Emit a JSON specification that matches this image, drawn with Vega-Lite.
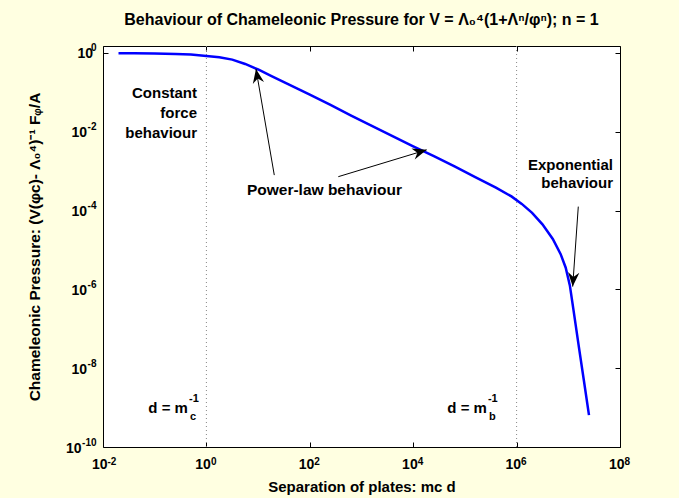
{
  "$schema": "https://vega.github.io/schema/vega-lite/v6.json",
  "width": 517,
  "height": 401,
  "autosize": "none",
  "padding": {"left": 103, "top": 46, "right": 59, "bottom": 51},
  "background": "#FFFFE1",
  "config": {
    "view": {"fill": "white", "stroke": "black", "strokeWidth": 1},
    "font": "Liberation Sans",
    "axis": {
      "labelFont": "Liberation Sans", "labelFontWeight": "bold", "labelFontSize": 14, "labelColor": "black",
      "titleFont": "Liberation Sans", "titleFontWeight": "bold", "titleFontSize": 15, "titleColor": "black",
      "tickColor": "black", "tickSize": -5, "domain": false, "grid": false, "labelPadding": 8, "labelFlush": false, "labelOverlap": false
    }
  },
  "title": {"text": "Behaviour of Chameleonic Pressure for V = Λ₀⁴(1+Λⁿ/φⁿ); n = 1", "font": "Liberation Sans", "fontSize": 16, "fontWeight": "bold", "color": "black", "offset": 15, "anchor": "middle"},
  "datasets": {
    "curve": [
      {"x": 0.01995, "y": 0.9886}, {"x": 0.03981, "y": 0.9840}, {"x": 0.1, "y": 0.9727},
      {"x": 0.2512, "y": 0.9441}, {"x": 0.5012, "y": 0.9078}, {"x": 1, "y": 0.8414},
      {"x": 1.778, "y": 0.7762}, {"x": 3.162, "y": 0.6761}, {"x": 5.623, "y": 0.5248},
      {"x": 10, "y": 0.3802}, {"x": 17.78, "y": 0.2630}, {"x": 31.62, "y": 0.1820},
      {"x": 56.23, "y": 0.1259}, {"x": 100, "y": 0.0871}, {"x": 251.2, "y": 0.04786},
      {"x": 631.0, "y": 0.0257}, {"x": 1585, "y": 0.01413}, {"x": 3981, "y": 0.007762},
      {"x": 10000, "y": 0.004266}, {"x": 25119, "y": 0.002399}, {"x": 63096, "y": 0.001318},
      {"x": 158489, "y": 7.079e-4}, {"x": 398107, "y": 3.802e-4}, {"x": 794328, "y": 2.291e-4},
      {"x": 1258925, "y": 1.479e-4}, {"x": 1995262, "y": 8.71e-5}, {"x": 3162278, "y": 4.467e-5},
      {"x": 5011872, "y": 1.905e-5}, {"x": 7079458, "y": 7.943e-6}, {"x": 8912509, "y": 3.548e-6},
      {"x": 10715193, "y": 1.259e-6}, {"x": 12589254, "y": 3.02e-7}, {"x": 15848932, "y": 3.802e-8},
      {"x": 19952623, "y": 5.012e-9}, {"x": 25118864, "y": 6.457e-10}
    ],
    "vlines": [{"x": 1}, {"x": 1000000}],
    "arrows": [
      {"id": "a1", "x": 20.56, "y": 7.94e-4, "x2": 9.10, "y2": 0.393},
      {"id": "a2", "x": 355.6, "y": 7.24e-4, "x2": 18239, "y2": 0.00347},
      {"id": "a3", "x": 15600000, "y": 1.259e-4, "x2": 12160000, "y2": 1.175e-6}
    ],
    "textRight": [
      {"label": "Constant", "x": 0.658, "y": 0.0966},
      {"label": "force", "x": 0.658, "y": 0.030},
      {"label": "behaviour", "x": 0.658, "y": 0.0093},
      {"label": "Exponential", "x": 73300000, "y": 0.00144},
      {"label": "behaviour", "x": 73300000, "y": 0.0005},
      {"label": "d = m", "x": 0.44, "y": 9.8e-10},
      {"label": "d = m", "x": 267000, "y": 9.8e-10}
    ],
    "textCenter": [
      {"label": "Power-law behaviour", "x": 192, "y": 3.33e-4}
    ],
    "subs": [
      {"label": "c", "x": 0.44, "y": 9.8e-10},
      {"label": "b", "x": 267000, "y": 9.8e-10}
    ],
    "sups": [
      {"label": "-1", "x": 0.44, "y": 9.8e-10},
      {"label": "-1", "x": 267000, "y": 9.8e-10}
    ]
  },
  "layer": [
    {
      "data": {"name": "vlines"},
      "mark": {"type": "rule", "color": "#888888", "strokeDash": [1, 3], "strokeWidth": 1},
      "encoding": {
        "x": {"field": "x", "type": "quantitative", "scale": {"type": "log", "domain": [0.01, 100000000], "nice": false},
          "axis": {"orient": "bottom", "values": [0.01, 1, 100, 10000, 1000000, 100000000], "title": null, "ticks": false, "offset": 0,
            "labelFontSize": 10, "labelAlign": "left", "labelBaseline": "top", "labelPadding": 9, "labelOffset": 4,
            "labelExpr": "datum.value < 0.1 ? '-2' : datum.value < 10 ? '0' : datum.value < 1000 ? '2' : datum.value < 100000 ? '4' : datum.value < 10000000 ? '6' : '8'"}}
      }
    },
    {
      "data": {"name": "curve"},
      "mark": {"type": "line", "color": "#0000FF", "strokeWidth": 2.5, "clip": true},
      "encoding": {
        "x": {"field": "x", "type": "quantitative", "scale": {"type": "log", "domain": [0.01, 100000000], "nice": false},
          "axis": {"orient": "bottom", "values": [0.01, 1, 100, 10000, 1000000, 100000000], "title": "Separation of plates: mc d", "titlePadding": 8, "offset": 0,
            "labelAlign": "right", "labelBaseline": "top", "labelPadding": 15, "labelOffset": 4,
            "labelExpr": "'10'"}},
        "y": {"field": "y", "type": "quantitative", "scale": {"type": "log", "domain": [1e-10, 1.5], "nice": false},
          "axis": {"orient": "left", "values": [1], "title": "Chameleonic Pressure: (V(φc)- Λ₀⁴)⁻¹ Fᵩ/A", "titlePadding": 34, "titleFontSize": 15.5, "offset": 0,
            "labelAlign": "right", "labelBaseline": "middle", "labelPadding": 15.5, "labelOffset": 1,
            "labelExpr": "'10'"}}
      }
    },
    {
      "data": {"name": "textCenter"},
      "mark": {"type": "text", "align": "center", "baseline": "middle", "font": "Liberation Sans", "fontWeight": "bold", "fontSize": 15.5, "color": "black"},
      "encoding": {
        "x": {"field": "x", "type": "quantitative", "scale": {"type": "log", "domain": [0.01, 100000000], "nice": false}, "axis": null},
        "y": {"field": "y", "type": "quantitative", "scale": {"type": "log", "domain": [1e-10, 1.5], "nice": false},
          "axis": {"orient": "left", "values": [1e-10, 1e-8, 1e-6, 1e-4, 0.01, 1], "title": null, "ticks": false, "offset": 0,
            "labelFontSize": 10, "labelAlign": "right", "labelBaseline": "middle", "labelPadding": 7, "labelOffset": -5,
            "labelExpr": "datum.value < 1e-9 ? '-10' : datum.value < 1e-7 ? '-8' : datum.value < 1e-5 ? '-6' : datum.value < 0.001 ? '-4' : datum.value < 0.1 ? '-2' : '0'"}},
        "text": {"field": "label"}
      }
    },
    {
      "data": {"name": "arrows"},
      "mark": {"type": "rule", "color": "black", "strokeWidth": 1},
      "encoding": {
        "x": {"field": "x", "type": "quantitative", "scale": {"type": "log", "domain": [0.01, 100000000], "nice": false},
          "axis": {"orient": "top", "values": [0.01, 1, 100, 10000, 1000000, 100000000], "labels": false, "title": null}},
        "y": {"field": "y", "type": "quantitative", "scale": {"type": "log", "domain": [1e-10, 1.5], "nice": false},
          "axis": {"orient": "right", "values": [1e-10, 1e-8, 1e-6, 1e-4, 0.01, 1], "labels": false, "title": null}},
        "x2": {"field": "x2"},
        "y2": {"field": "y2"}
      }
    },
    {
      "data": {"name": "arrows"},
      "transform": [{"filter": "datum.id == 'a1'"}],
      "mark": {"type": "point", "shape": "M0,0L-1,2.5L0,1.7L1,2.5Z", "filled": true, "color": "black", "opacity": 1, "size": 130, "angle": 350},
      "encoding": {
        "x": {"field": "x2", "type": "quantitative", "scale": {"type": "log", "domain": [0.01, 100000000], "nice": false}, "axis": null},
        "y": {"field": "y2", "type": "quantitative", "scale": {"type": "log", "domain": [1e-10, 1.5], "nice": false},
          "axis": {"orient": "left", "values": [1e-8, 1e-6, 1e-4, 0.01], "title": null, "ticks": false, "offset": 0,
            "labelAlign": "right", "labelBaseline": "middle", "labelPadding": 16.5, "labelOffset": 1, "labelExpr": "'10'"}}
      }
    },
    {
      "data": {"name": "arrows"},
      "transform": [{"filter": "datum.id == 'a2'"}],
      "mark": {"type": "point", "shape": "M0,0L-1,2.5L0,1.7L1,2.5Z", "filled": true, "color": "black", "opacity": 1, "size": 130, "angle": 73},
      "encoding": {
        "x": {"field": "x2", "type": "quantitative", "scale": {"type": "log", "domain": [0.01, 100000000], "nice": false}, "axis": null},
        "y": {"field": "y2", "type": "quantitative", "scale": {"type": "log", "domain": [1e-10, 1.5], "nice": false},
          "axis": {"orient": "left", "values": [1e-10], "title": null, "ticks": false, "offset": 0,
            "labelAlign": "right", "labelBaseline": "middle", "labelPadding": 22, "labelOffset": 1, "labelExpr": "'10'"}}
      }
    },
    {
      "data": {"name": "arrows"},
      "transform": [{"filter": "datum.id == 'a3'"}],
      "mark": {"type": "point", "shape": "M0,0L-1,2.5L0,1.7L1,2.5Z", "filled": true, "color": "black", "opacity": 1, "size": 130, "angle": 184},
      "encoding": {
        "x": {"field": "x2", "type": "quantitative", "scale": {"type": "log", "domain": [0.01, 100000000], "nice": false}, "axis": null},
        "y": {"field": "y2", "type": "quantitative", "scale": {"type": "log", "domain": [1e-10, 1.5], "nice": false}, "axis": null}
      }
    },
    {
      "data": {"name": "textRight"},
      "mark": {"type": "text", "align": "right", "baseline": "middle", "font": "Liberation Sans", "fontWeight": "bold", "fontSize": 15, "color": "black"},
      "encoding": {
        "x": {"field": "x", "type": "quantitative", "scale": {"type": "log", "domain": [0.01, 100000000], "nice": false}, "axis": null},
        "y": {"field": "y", "type": "quantitative", "scale": {"type": "log", "domain": [1e-10, 1.5], "nice": false}, "axis": null},
        "text": {"field": "label"}
      }
    },
    {
      "data": {"name": "subs"},
      "mark": {"type": "text", "align": "left", "baseline": "middle", "dx": 2, "dy": 9, "font": "Liberation Sans", "fontWeight": "bold", "fontSize": 11, "color": "black"},
      "encoding": {
        "x": {"field": "x", "type": "quantitative", "scale": {"type": "log", "domain": [0.01, 100000000], "nice": false}, "axis": null},
        "y": {"field": "y", "type": "quantitative", "scale": {"type": "log", "domain": [1e-10, 1.5], "nice": false}, "axis": null},
        "text": {"field": "label"}
      }
    },
    {
      "data": {"name": "sups"},
      "mark": {"type": "text", "align": "left", "baseline": "middle", "dx": 1, "dy": -9, "font": "Liberation Sans", "fontWeight": "bold", "fontSize": 11, "color": "black"},
      "encoding": {
        "x": {"field": "x", "type": "quantitative", "scale": {"type": "log", "domain": [0.01, 100000000], "nice": false}, "axis": null},
        "y": {"field": "y", "type": "quantitative", "scale": {"type": "log", "domain": [1e-10, 1.5], "nice": false}, "axis": null},
        "text": {"field": "label"}
      }
    }
  ],
  "resolve": {"axis": {"x": "independent", "y": "independent"}}
}
